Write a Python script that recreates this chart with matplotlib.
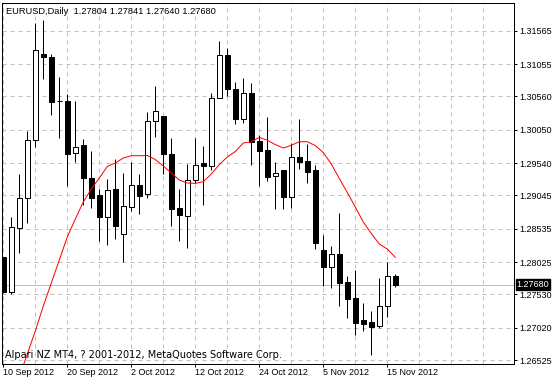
import matplotlib
matplotlib.use("Agg")
import matplotlib.pyplot as plt
import matplotlib.transforms as mtransforms
import numpy as np

plt.rcParams['font.family'] = ['Liberation Sans', 'DejaVu Sans']

# ........................................................ daily bars EURUSD
opens = [1.28097, 1.27571, 1.28540, 1.29000, 1.29892, 1.31209, 1.31163, 1.30489, 1.30489, 1.29688,
         1.29816, 1.29306, 1.29046, 1.28709, 1.29137, 1.28449, 1.28872, 1.29204, 1.29061, 1.30178,
         1.30255, 1.29678, 1.28852, 1.28734, 1.29275, 1.29540, 1.29489, 1.30530, 1.31193, 1.30668,
         1.30209, 1.30607, 1.29877, 1.29734, 1.29336, 1.29428, 1.29025, 1.29632, 1.29571, 1.29428,
         1.28209, 1.27954, 1.28142, 1.27714, 1.27474, 1.27137, 1.27107, 1.27041, 1.27347, 1.27804]
highs = [1.28107, 1.28719, 1.29372, 1.30030, 1.31688, 1.31729, 1.31209, 1.30857, 1.30591, 1.30489,
         1.29908, 1.29724, 1.29142, 1.29290, 1.29596, 1.29382, 1.29561, 1.29372, 1.30321, 1.30719,
         1.30260, 1.29923, 1.29137, 1.29525, 1.29928, 1.29800, 1.30617, 1.31407, 1.31305, 1.30780,
         1.30836, 1.30765, 1.29969, 1.30244, 1.29561, 1.29433, 1.29841, 1.30214, 1.29831, 1.29510,
         1.28433, 1.28270, 1.28775, 1.27811, 1.27903, 1.27393, 1.27275, 1.27780, 1.28025, 1.27841]
lows = [1.27556, 1.27535, 1.28168, 1.28617, 1.29790, 1.30831, 1.30280, 1.29928, 1.29193, 1.29561,
        1.28898, 1.28857, 1.28352, 1.28290, 1.28382, 1.28030, 1.28801, 1.28760, 1.29010, 1.29943,
        1.29372, 1.28576, 1.28352, 1.28245, 1.29229, 1.28903, 1.29433, 1.30530, 1.30566, 1.30132,
        1.30158, 1.29515, 1.29193, 1.29270, 1.28831, 1.28836, 1.28857, 1.29454, 1.29239, 1.28219,
        1.27658, 1.27632, 1.27357, 1.27173, 1.26903, 1.26974, 1.26607, 1.27010, 1.27178, 1.27640]
closes = [1.27571, 1.28556, 1.29000, 1.29892, 1.31270, 1.31168, 1.30479, 1.30484, 1.29678, 1.29790,
          1.29306, 1.29000, 1.28719, 1.29122, 1.28581, 1.28877, 1.29199, 1.29040, 1.30178, 1.30331,
          1.29678, 1.28841, 1.28750, 1.29275, 1.29505, 1.29489, 1.30530, 1.31193, 1.30668, 1.30219,
          1.30607, 1.29867, 1.29729, 1.29331, 1.29382, 1.29025, 1.29632, 1.29561, 1.29408, 1.28311,
          1.27954, 1.28142, 1.27709, 1.27464, 1.27097, 1.27081, 1.27035, 1.27347, 1.27806, 1.27680]
# ........................................................ moving average
ma = [1.25576, 1.25913, 1.26265, 1.26617, 1.26969, 1.27351, 1.27703, 1.28056, 1.28408, 1.28683,
      1.28943, 1.29142, 1.29311, 1.29487, 1.29540, 1.29617, 1.29652, 1.29652, 1.29655, 1.29594,
      1.29494, 1.29387, 1.29280, 1.29234, 1.29229, 1.29254, 1.29372, 1.29517, 1.29632, 1.29716,
      1.29846, 1.29866, 1.29933, 1.29888, 1.29823, 1.29770, 1.29811, 1.29866, 1.29866, 1.29808,
      1.29701, 1.29525, 1.29303, 1.29089, 1.28867, 1.28637, 1.28461, 1.28300, 1.28224, 1.28097]
# ........................................................ axis labels
date_pos = [0, 8, 16, 24, 32, 40, 48]
date_lab = ['10 Sep 2012', '20 Sep 2012', '2 Oct 2012', '12 Oct 2012',
            '24 Oct 2012', '5 Nov 2012', '15 Nov 2012']
price_ticks = [1.26525, 1.27020, 1.27530, 1.28025, 1.28535, 1.29045,
               1.29540, 1.30050, 1.30560, 1.31055, 1.31565]
last_price = 1.27680
title = 'EURUSD,Daily  1.27804 1.27841 1.27640 1.27680'
footer = 'Alpari NZ MT4, ? 2001-2012, MetaQuotes Software Corp.'

W, H = 552, 380
px = 0.72  # one pixel in points at dpi 100
fig = plt.figure(figsize=(W / 100, H / 100), dpi=100)
ax = fig.add_axes([2 / W, (H - 364) / H, 512 / W, 361.5 / H])
ax.set_xlim(-0.1625, 63.84)
ax.set_ylim(1.26464, 1.31997)

grey = '#c0c0c0'
for p in price_ticks:
    ax.axhline(p, color=grey, lw=px, ls=(0, (4, 4)), zorder=0)
for k in range(0, 64, 4):
    ax.axvline(k, color=grey, lw=px, ls=(0, (4, 4)), zorder=0)
ax.axhline(last_price, color=grey, lw=px, zorder=0.5)

o = np.array(opens); c = np.array(closes)
idx = np.arange(len(o))
ax.vlines(idx, lows, highs, color='black', lw=px, zorder=2)
up = c >= o
bot = np.minimum(o, c)
hgt = np.maximum(np.abs(c - o), 0.00001)
ax.bar(idx[up], hgt[up], bottom=bot[up], width=0.6, facecolor='white',
       edgecolor='black', lw=px, zorder=3)
ax.bar(idx[~up], hgt[~up], bottom=bot[~up], width=0.6, facecolor='black',
       edgecolor='black', lw=px, zorder=3)

ax.plot(idx, ma, color='red', lw=px, zorder=4)

# ........................................................ axes
for s in ax.spines.values():
    s.set_linewidth(px)
    s.set_color('black')
ax.yaxis.tick_right()
ax.set_yticks(price_ticks)
ax.set_yticklabels(['%.5f' % p for p in price_ticks])
ax.set_xticks(date_pos)
ax.set_xticklabels(date_lab, ha='left')
ax.tick_params(axis='both', direction='out', length=3 * px, width=px,
               labelsize=6.5, color='black')
ax.tick_params(axis='y', pad=1.5)
ax.tick_params(axis='x', pad=1.0)

tr = mtransforms.blended_transform_factory(ax.transAxes, ax.transData)
ax.text(1.0055, last_price, '%.5f' % last_price, transform=tr, color='white',
        fontsize=6.5, va='center', ha='left', zorder=10, clip_on=False,
        bbox=dict(facecolor='black', edgecolor='black', pad=0.6))

fig.text(6 / W, 1 - 11 / H, title, fontsize=6.7, va='center', ha='left')
fig.text(5 / W, 1 - 355 / H, footer, fontsize=7, va='center', ha='left',
         family=['DejaVu Sans'])

fig.savefig('out.png', dpi=100)
